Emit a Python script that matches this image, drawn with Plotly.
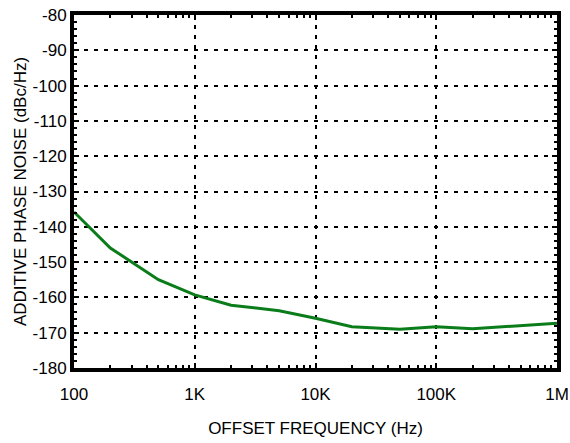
import plotly.graph_objects as go

freq_hz = [100, 200, 500, 1000, 2000, 5000, 10000, 20000, 50000, 100000, 200000, 1000000]
phase_noise_dbc = [-135.8, -146.0, -155.0, -159.3, -162.2, -163.8, -165.9, -168.3, -169.0, -168.3, -168.9, -167.3]

x_tickvals = [100, 1000, 10000, 100000, 1000000]
x_ticktext = ["100", "1K", "10K", "100K", "1M"]
y_tickvals = [-80, -90, -100, -110, -120, -130, -140, -150, -160, -170, -180]
y_ticktext = ["-80", "-90", "-100", "-110", "-120", "-130", "-140", "-150", "-160", "-170", "-180"]

fig = go.Figure()
fig.add_trace(go.Scatter(
    x=freq_hz, y=phase_noise_dbc, mode="lines",
    line=dict(color="#0a7d1a", width=3),
    showlegend=False,
))

font = dict(family="Liberation Sans, Arial, sans-serif", size=17, color="black")

fig.update_xaxes(
    type="log", range=[2, 6],
    tickvals=x_tickvals, ticktext=x_ticktext,
    showline=True, linewidth=4, linecolor="black", mirror="allticks",
    ticks="inside", ticklen=5, tickwidth=2, tickcolor="black",
    showgrid=True, gridcolor="black", gridwidth=2, griddash="4px,6px",
    minor=dict(ticks="inside", ticklen=3, tickwidth=2, tickcolor="black", showgrid=False,
               tickvals=[v * m for v in [100, 1000, 10000, 100000] for m in range(2, 10)]),
    zeroline=False, automargin=False,
    tickfont=font, ticklabelstandoff=8,
    title=dict(text="OFFSET FREQUENCY (Hz)", font=font, standoff=20),
)
fig.update_yaxes(
    range=[-180, -80],
    tickvals=y_tickvals, ticktext=y_ticktext,
    showline=True, linewidth=4, linecolor="black", mirror="allticks",
    ticks="inside", ticklen=5, tickwidth=2, tickcolor="black",
    showgrid=True, gridcolor="black", gridwidth=2, griddash="4px,6px",
    minor=dict(ticks="inside", ticklen=3, tickwidth=2, tickcolor="black", dtick=2, showgrid=False),
    zeroline=False, automargin=False,
    tickfont=font,
    title=dict(text="ADDITIVE PHASE NOISE (dBc/Hz)", font=font, standoff=3),
)
fig.update_layout(
    width=570, height=443,
    margin=dict(l=74, r=13, t=15, b=75),
    paper_bgcolor="white", plot_bgcolor="white",
    font=font,
)
fig.write_html("out.html", config={"displayModeBar": False},
               post_script="document.body.style.margin='0';")
